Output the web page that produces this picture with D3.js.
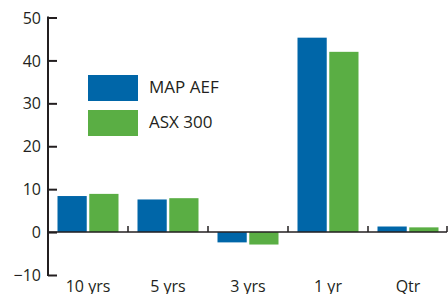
<!DOCTYPE html>
<html>
<head>
<meta charset="utf-8">
<script src="https://cdn.jsdelivr.net/npm/d3@7"></script>
<style>
  body { margin: 0; background: #fff; }
  text { font-family: "Open Sans", "Noto Sans", sans-serif; fill: #231f20; }
</style>
</head>
<body>
<div id="chart"></div>
<script>
// Data
const periods = ["10 yrs", "5 yrs", "3 yrs", "1 yr", "Qtr"];
const series = ["MAP AEF", "ASX 300"];
const mapAef = [8.4, 7.6, -2.4, 45.3, 1.3];
const asx300 = [8.9, 7.9, -2.9, 42.0, 1.1];
const yTicks = [-10, 0, 10, 20, 30, 40, 50];
const colors = ["#0066a8", "#5aae44"];

const width = 448, height = 294;

const svg = d3.select("#chart")
  .append("svg")
    .attr("width", width)
    .attr("height", height);

// scales
const x = d3.scaleBand()
  .domain(periods)
  .range([48, 448])
  .paddingInner(0)
  .paddingOuter(0);

const xs = d3.scaleBand()
  .domain(series)
  .range([9.5, 70.5])
  .paddingInner(0.08);

const y = d3.scaleLinear()
  .domain([-10, 50])
  .range([275, 17.5]);

const color = d3.scaleOrdinal().domain(series).range(colors);

const rows = periods.map((p, i) => ({period: p, values: [mapAef[i], asx300[i]]}));

// bars
svg.append("g")
  .selectAll("g")
  .data(rows)
  .join("g")
    .attr("transform", d => `translate(${x(d.period)},0)`)
  .selectAll("rect")
  .data(d => series.map((s, j) => ({key: s, value: d.values[j]})))
  .join("rect")
    .attr("x", d => xs(d.key))
    .attr("width", xs.bandwidth())
    .attr("y", d => y(Math.max(0, d.value)))
    .attr("height", d => Math.abs(y(d.value) - y(0)))
    .attr("fill", d => color(d.key));

// y axis, ticks pointing inward
const yAxis = svg.append("g")
  .attr("transform", "translate(48,0)")
  .call(d3.axisRight(y).tickValues(yTicks).tickSize(9).tickFormat(d3.format("d")));
yAxis.select(".domain").remove();
yAxis.selectAll(".tick line").attr("stroke", "#231f20").attr("stroke-width", 2);
yAxis.selectAll(".tick text")
  .attr("x", -7)
  .attr("text-anchor", "end")
  .attr("dy", "0.35em")
  .style("font-size", "16px");
svg.append("line")
  .attr("x1", 48).attr("x2", 48)
  .attr("y1", y(50) - 1).attr("y2", y(-10) + 1)
  .attr("stroke", "#231f20").attr("stroke-width", 2);

// zero line with category separators
svg.append("line")
  .attr("x1", 48).attr("x2", 447)
  .attr("y1", y(0)).attr("y2", y(0))
  .attr("stroke", "#231f20").attr("stroke-width", 1.5);
svg.append("g")
  .selectAll("line")
  .data(periods)
  .join("line")
    .attr("x1", d => x(d) + x.bandwidth() - (d === "Qtr" ? 1 : 0))
    .attr("x2", d => x(d) + x.bandwidth() - (d === "Qtr" ? 1 : 0))
    .attr("y1", y(0) - 6)
    .attr("y2", y(0))
    .attr("stroke", "#231f20")
    .attr("stroke-width", 1.5);

// category labels
svg.append("g")
  .selectAll("text")
  .data(periods)
  .join("text")
    .attr("x", d => x(d) + x.bandwidth() / 2)
    .attr("y", 292)
    .attr("text-anchor", "middle")
    .style("font-size", "16px")
    .text(d => d);

// legend
const legend = svg.append("g")
  .selectAll("g")
  .data(series)
  .join("g")
    .attr("transform", (d, i) => `translate(88,${75 + i * 35})`);
legend.append("rect")
  .attr("width", 50)
  .attr("height", 26)
  .attr("fill", d => color(d));
legend.append("text")
  .attr("x", 61)
  .attr("y", 18)
  .style("font-size", "17px")
  .text(d => d);
</script>
</body>
</html>
